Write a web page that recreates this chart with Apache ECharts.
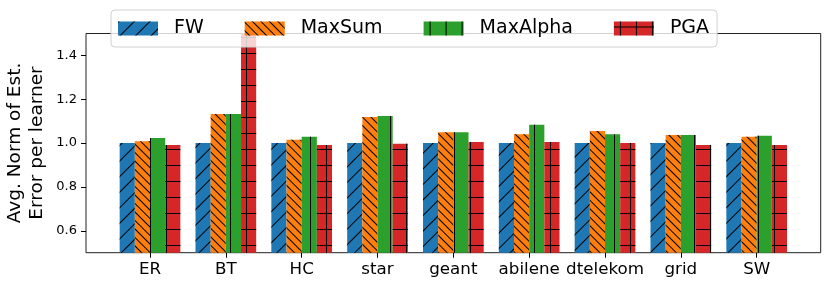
<!DOCTYPE html>
<html>
<head>
<meta charset="utf-8">
<script src="https://cdn.jsdelivr.net/npm/echarts@6/dist/echarts.min.js"></script>
<style>html,body{margin:0;padding:0;background:#fff}#c{width:830px;height:288px}</style>
</head>
<body>
<div id="c"></div>
<script>
const categories = ['ER','BT','HC','star','geant','abilene','dtelekom','grid','SW'];
const seriesNames = ['FW','MaxSum','MaxAlpha','PGA'];
const fwValues       = [1.000, 1.000, 1.000, 1.000, 1.000, 1.000, 1.000, 1.000, 1.000];
const maxSumValues   = [1.009, 1.133, 1.015, 1.119, 1.050, 1.040, 1.055, 1.037, 1.029];
const maxAlphaValues = [1.023, 1.133, 1.029, 1.124, 1.049, 1.084, 1.040, 1.037, 1.034];
const pgaValues      = [0.991, 1.620, 0.991, 0.997, 1.005, 1.005, 1.000, 0.991, 0.991];
const yTicks = [0.6, 0.8, 1.0, 1.2, 1.4];

const colors = ['#1f77b4','#ff7f0e','#2ca02c','#d62728'];
const decals = [
  {symbol:'rect', symbolSize:1, color:'#000', dashArrayX:[1,0], dashArrayY:[1,10], rotation: -Math.PI/4},
  {symbol:'rect', symbolSize:1, color:'#000', dashArrayX:[1,0], dashArrayY:[1,5], rotation: Math.PI/4},
  {symbol:'rect', symbolSize:1, color:'#000', dashArrayX:[[0,6,1,9]], dashArrayY:[1,0]},
  {symbol:'rect', symbolSize:1, color:'#000', dashArrayX:[[0,6,1,9],[16,0],[0,6,1,9]], dashArrayY:[5,0,1,0,10,0]}
];
const allValues = [fwValues, maxSumValues, maxAlphaValues, pgaValues];

const chart = echarts.init(document.getElementById('c'), null, {renderer:'canvas'});
const font = 'DejaVu Sans';
const option = {
  animation: false,
  textStyle: {fontFamily: font},
  grid: [
    {left:86, right:9.3, top:33.5, bottom:35.3, show:true, borderColor:'#222', borderWidth:1, backgroundColor:'transparent'},
    {left:112.1, right:35.4, top:33.5, bottom:35.3}
  ],
  xAxis: [
    {gridIndex:0, type:'value', show:false, min:0, max:1},
    {gridIndex:1, type:'category', data:categories,
     axisLine:{show:false},
     axisTick:{show:true, alignWithLabel:true, length:5, lineStyle:{color:'#000', width:1}},
     axisLabel:{color:'#000', fontSize:16.7, fontFamily:font, margin:8, interval:0}}
  ],
  yAxis: [
    {gridIndex:0, type:'value', min:0.5, max:1.5,
     axisLine:{show:false}, splitLine:{show:false},
     axisTick:{show:true, length:5, lineStyle:{color:'#000', width:1}, customValues: yTicks},
     axisLabel:{color:'#000', fontSize:13, fontFamily:font, margin:9, customValues: yTicks,
       formatter: v => v.toFixed(1)}},
    {gridIndex:1, type:'value', min:0.5, max:1.5, show:false}
  ],
  legend: {
    left:111, top:10, orient:'horizontal', icon:'rect', itemWidth:40, itemHeight:14, itemGap:41,
    padding:[9,8,9,7], backgroundColor:'rgba(255,255,255,0.8)', borderColor:'#d0d0d0', borderWidth:1, borderRadius:4,
    textStyle:{fontSize:19, color:'#000', fontFamily:font, padding:[0,0,0,11]},
    data: seriesNames
  },
  graphic: [{
    type:'text', x:26, y:143, rotation: Math.PI/2,
    style:{text:'Avg. Norm of Est.\nError per learner', font:'18.5px "DejaVu Sans"', fill:'#000',
      textAlign:'center', textVerticalAlign:'middle', lineHeight:22}
  }],
  series: seriesNames.map((n,i) => ({
    name:n, type:'bar', xAxisIndex:1, yAxisIndex:1, data: allValues[i],
    barWidth:15.17, barGap:'0%', clip:true,
    itemStyle:{color:colors[i], decal:decals[i]}
  }))
};
chart.setOption(option);
</script>
</body>
</html>
